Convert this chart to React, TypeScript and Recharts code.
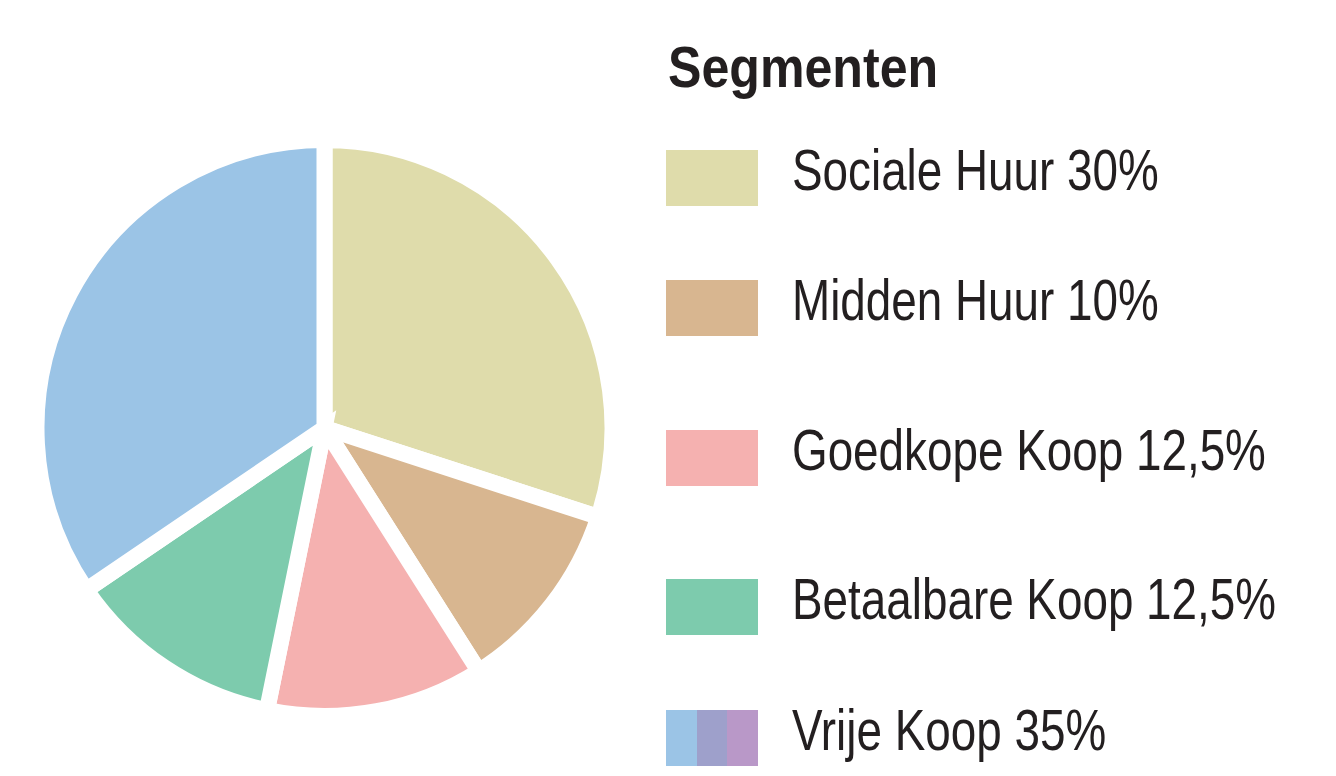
import React from "react"
import { PieChart, Pie, Cell, Legend } from "recharts"

const segments = ["Sociale Huur", "Midden Huur", "Goedkope Koop", "Betaalbare Koop", "Vrije Koop"]
// slice sizes as drawn in the picture (the labels round them)
const shares = [30, 11, 12.2, 12.3, 34.5]
const shareLabels = ["30%", "10%", "12,5%", "12,5%", "35%"]
const colors = ["#DFDCAB", "#D8B690", "#F5B1B0", "#7DCBAD", "#9BC4E6"]
const vrijeSwatch = ["#9BC4E6", "#9EA0CB", "#B998C8"]

const data = segments.map((name, i) => ({ name, value: shares[i], label: shareLabels[i] }))

const FONT = '"Liberation Sans", Arial, sans-serif'
const rowTops = [150, 280, 430, 579, 710]

const SegmentLegend = () => (
  <div style={{ position: "relative", width: 670, height: 776, fontFamily: FONT, color: "#231F20" }}>
    <div
      style={{
        position: "absolute", left: 2, top: 38, fontSize: 58, lineHeight: "58px", fontWeight: 700,
        whiteSpace: "nowrap", transform: "scaleX(0.864)", transformOrigin: "left center",
      }}
    >
      Segmenten
    </div>
    {data.map((d, i) => (
      <div key={d.name}>
        <div style={{ position: "absolute", left: 0, top: rowTops[i], width: 92, height: 56, display: "flex" }}>
          {i === 4
            ? vrijeSwatch.map((c) => <div key={c} style={{ flex: 1, background: c }} />)
            : <div style={{ flex: 1, background: colors[i] }} />}
        </div>
        <div
          style={{
            position: "absolute", left: 126, top: rowTops[i] - 9, fontSize: 58, lineHeight: "58px",
            whiteSpace: "nowrap", transform: "scaleX(0.79)", transformOrigin: "left center",
          }}
        >
          {d.name} {d.label}
        </div>
      </div>
    ))}
  </div>
)

export default function App() {
  return (
    <div style={{ position: "absolute", left: 0, top: 0, width: 1336, height: 776, background: "#fff" }}>
      <PieChart width={1336} height={776} margin={{ top: 0, right: 0, bottom: 0, left: 0 }}>
        <Pie
          data={data}
          dataKey="value"
          nameKey="name"
          cx={324.5}
          cy={428}
          outerRadius={288}
          startAngle={90}
          endAngle={-270}
          stroke="#ffffff"
          strokeWidth={16}
          isAnimationActive={false}
        >
          {data.map((d, i) => (
            <Cell key={d.name} fill={colors[i]} />
          ))}
        </Pie>
        <Legend
          content={() => <SegmentLegend />}
          wrapperStyle={{ position: "absolute", left: 666, top: 0, width: 670, height: 776 }}
        />
      </PieChart>
    </div>
  )
}
